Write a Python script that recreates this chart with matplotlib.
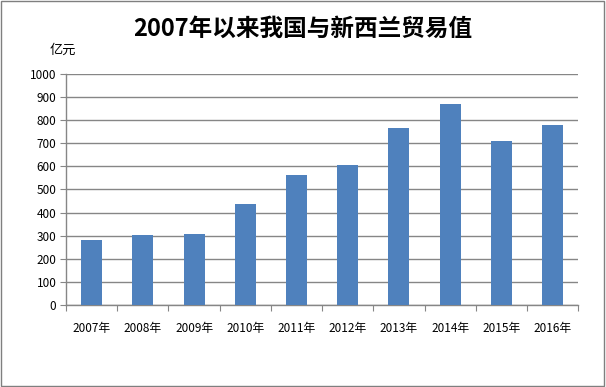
import matplotlib.pyplot as plt
from matplotlib.patches import Rectangle

plt.rcParams['font.family'] = ['Noto Sans CJK SC', 'DejaVu Sans']

years = ['2007年', '2008年', '2009年', '2010年', '2011年',
         '2012年', '2013年', '2014年', '2015年', '2016年']
values = [282, 303, 307, 437, 563, 606, 766, 870, 710, 779]
yticks = [0, 100, 200, 300, 400, 500, 600, 700, 800, 900, 1000]

grid_color = '#868686'
bar_color = '#4F81BD'

fig = plt.figure(figsize=(6.06, 3.87), dpi=100)
ax = fig.add_axes([0.109, 0.212, 0.845, 0.597])

x = range(len(years))
ax.bar(x, values, width=0.41, color=bar_color, zorder=3)

ax.set_xlim(-0.5, len(years) - 0.5)
ax.set_ylim(0, 1000)
ax.set_yticks(yticks)
# tick marks between categories, labels centred under bars
ax.set_xticks([i - 0.5 for i in range(len(years) + 1)])
ax.set_xticklabels([])
ax.set_xticks(list(x), minor=True)
ax.set_xticklabels(years, minor=True)
ax.tick_params(axis='x', which='minor', length=0, labelsize=8.5, pad=12)
ax.tick_params(axis='x', which='major', length=4, color=grid_color, direction='out')
ax.tick_params(axis='y', length=4, color=grid_color, labelsize=8.5, pad=3)

ax.grid(axis='y', color=grid_color, linewidth=1, zorder=0)
for s in ['top', 'right']:
    ax.spines[s].set_visible(False)
for s in ['left', 'bottom']:
    ax.spines[s].set_color(grid_color)
    ax.spines[s].set_linewidth(1)

fig.text(0.5, 0.925, '2007年以来我国与新西兰贸易值', ha='center', va='center',
         fontsize=17, fontweight='bold')
fig.text(0.082, 0.87, '亿元', ha='left', va='center', fontsize=9.5)

# outer border
fig.patches.append(Rectangle((0.002, 0.003), 0.995, 0.994, transform=fig.transFigure,
                             fill=False, edgecolor='#7f7f7f', linewidth=1))

fig.savefig('out.png', dpi=100)
